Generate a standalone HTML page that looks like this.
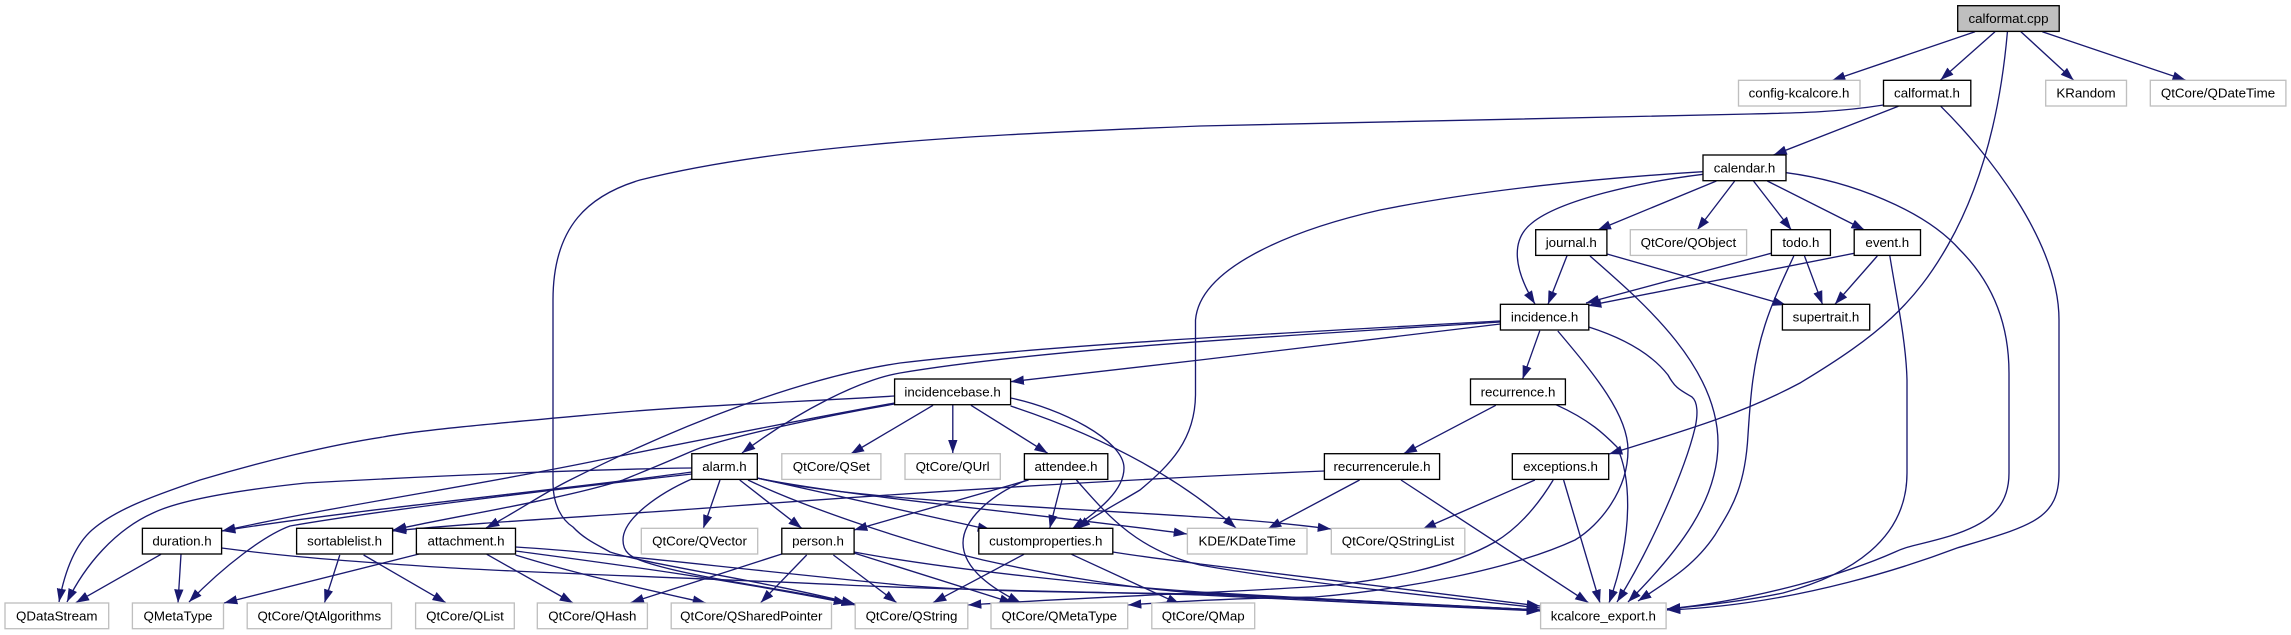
<!DOCTYPE html>
<html><head><meta charset="utf-8"><title>calformat.cpp</title>
<style>
html,body{margin:0;padding:0;background:#fff;width:2291px;height:635px;overflow:hidden}
svg{display:block}
.e path{fill:none;stroke:#191970;stroke-width:1.33;marker-end:url(#a)}
.n rect{fill:#fff;stroke:#000;stroke-width:1.33}
.g rect{fill:#fff;stroke:#bfbfbf;stroke-width:1.33}
text{font-family:"Liberation Sans",sans-serif;font-size:13.33px;text-anchor:middle;fill:#000}
</style></head><body>
<svg xmlns="http://www.w3.org/2000/svg" width="2291" height="635" viewBox="0 0 2291 635">
<defs><marker id="a" markerUnits="userSpaceOnUse" markerWidth="15" markerHeight="11" refX="13.33" refY="5" orient="auto"><polygon points="0,0.33 13.33,5 0,9.67" fill="#191970"/></marker></defs>
<rect width="2291" height="635" fill="#fff"/>
<g class="e">
<path d="M1975,31.7L1832,80.5"/>
<path d="M1995,31.7L1940.5,80"/>
<path d="M2007.4,32C2001,105 1985,180 1948,245C1915,303 1880,335 1800,383C1740,415 1680,432 1609,454"/>
<path d="M2020.9,31.7L2073.7,80.3"/>
<path d="M2042.3,31.7L2185.8,80.3"/>
<path d="M1898.4,106.3L1773.5,155"/>
<path d="M1940.8,106.3C1985,150 2059,240 2059,320L2059,473C2059,520 2030,526 1957,548C1920,562 1800,605 1667,610"/>
<path d="M1883.5,105C1840,112 1800,113 1750,114L1200,126C1050,132 950,137 868,145C780,153 700,165 640,180C590,195 553,225 553,300L553,483C553,505 562,520 573,527C585,540 600,546 610,552C650,565 760,580 855,604"/>
<path d="M1703,171.7C1600,178 1480,190 1380,210C1300,228 1200,265 1195.5,320L1195.5,395C1195,440 1170,465 1140,490C1115,505 1095,515 1077,529"/>
<path d="M1703,174.3C1640,182 1560,200 1532,223C1510,240 1514,270 1535,304"/>
<path d="M1716.4,181L1597.7,230"/>
<path d="M1734.7,181L1697.2,230"/>
<path d="M1753.5,181L1791.4,230"/>
<path d="M1767.3,181L1864.6,230"/>
<path d="M1786.2,172.7C1850,181 1925,210 1960,250C1990,280 2009,320 2009,373L2009,473C2009,510 1985,525 1950,536C1920,545 1910,545 1895,552C1850,572 1760,600 1667,609"/>
<path d="M1567,255.7L1548,304.3"/>
<path d="M1607,254L1786,305"/>
<path d="M1590,256C1640,300 1718,365 1718,443C1718,500 1680,550 1628,602"/>
<path d="M1771,253.3L1586,303"/>
<path d="M1804.5,256L1822.5,304.3"/>
<path d="M1793.8,256C1785,275 1773,300 1765,325C1752,365 1750,405 1748,435C1745,490 1730,510 1715,535C1695,565 1670,580 1638,601"/>
<path d="M1854.2,253.3L1588,305.7"/>
<path d="M1877.3,256L1834.9,304.3"/>
<path d="M1889.8,255.7C1896,295 1906,340 1907,380L1907,473C1907,540 1850,575 1783,593C1745,601 1700,606 1667,609"/>
<path d="M1500.4,321C1300,332 1050,345 900,363C800,378 680,425 570,480C540,495 520,510 486,528"/>
<path d="M1500.4,322C1300,335 1050,348 900,373C860,380 800,410 742,453"/>
<path d="M1500.4,324L1200,360L1010.6,381.7"/>
<path d="M1539.8,330.7L1522.6,379"/>
<path d="M1557.8,331C1595,375 1628,415 1628,450C1628,490 1600,525 1575,540C1510,570 1400,590 1315,597C1250,598 1180,601 1128,605"/>
<path d="M1588.8,327C1620,337 1650,352 1668,375C1675,388 1680,390 1692,397C1698,402 1698,415 1695,428C1685,470 1650,550 1617,602"/>
<path d="M1495.8,405.3L1403.6,453.7"/>
<path d="M1555.9,404.7C1590,420 1605,435 1617,447C1630,475 1635,530 1609,603"/>
<path d="M1359.6,480L1268,528.7"/>
<path d="M1401,480L1588.4,602.7"/>
<path d="M1324.4,471C1150,478 950,490 733,506C620,515 480,522 393,531"/>
<path d="M1534.9,480L1422.7,529"/>
<path d="M1553.2,480C1535,510 1515,530 1495,542C1450,568 1380,580 1335,585C1250,592 1100,596 968,605"/>
<path d="M1563.6,480L1600,603"/>
<path d="M894.6,396C800,402 700,405 600,414C500,423 420,430 383,437C330,445 260,462 200,480C150,497 115,510 92,530C75,545 65,570 59,602"/>
<path d="M894.6,403C800,420 700,440 600,460C480,485 340,505 222,531"/>
<path d="M894.6,404C830,415 720,438 690,452C660,465 640,473 623,480C560,500 450,517 393,530"/>
<path d="M933,405.3L850.7,454"/>
<path d="M952.8,405L952.8,453.3"/>
<path d="M971,405.3L1047.7,453.3"/>
<path d="M1010.6,398C1060,408 1124,440 1124,468C1124,490 1100,510 1072,529"/>
<path d="M1010.6,406C1090,432 1170,470 1236,528"/>
<path d="M691.8,468C600,469 450,475 306,483C240,490 180,500 153,513C115,530 85,565 67,602"/>
<path d="M692,472C560,490 350,510 222,531"/>
<path d="M692,474C620,482 400,507 290,526C265,535 225,565 189,602"/>
<path d="M691.7,479C660,493 623,518 623,540C623,552 630,557 645,562C700,580 800,590 855,605"/>
<path d="M720,480L703.3,528.3"/>
<path d="M739.7,480L801.7,528.3"/>
<path d="M757,478L991,530"/>
<path d="M757,478C850,497 1050,515 1187,534"/>
<path d="M757,478C850,500 1050,507 1200,517C1250,520 1300,525 1331,529"/>
<path d="M748,480C800,505 900,540 983,560C1050,575 1140,590 1200,593C1300,598 1450,605 1540,610"/>
<path d="M1028.6,480L854,530"/>
<path d="M1062,480L1049.7,528.3"/>
<path d="M1026.7,480C990,495 963,520 963,543C963,570 995,590 1021,603"/>
<path d="M1076.4,480C1105,512 1135,550 1200,565C1300,583 1450,598 1540,608"/>
<path d="M161,554.3L75.8,602.7"/>
<path d="M181,554.3L178,602.7"/>
<path d="M221.6,548C260,553 300,558 421,566C500,572 700,578 845,585C950,590 1100,592 1200,595C1300,600 1450,607 1540,611"/>
<path d="M339.8,555L324.5,602.7"/>
<path d="M363.6,555L445.8,602.7"/>
<path d="M419,554L224,603"/>
<path d="M486.8,554.3L573,603"/>
<path d="M515.5,555C580,575 640,588 706,603"/>
<path d="M515.5,551C620,565 720,578 847,603"/>
<path d="M515.5,547C600,552 700,565 900,585C1000,593 1100,592 1200,594C1300,598 1450,606 1540,610"/>
<path d="M781.8,554L630.6,602.7"/>
<path d="M806.7,555L760.7,602.7"/>
<path d="M833.4,555L896.6,602.7"/>
<path d="M854,553L1013,603"/>
<path d="M854,552C950,570 1100,585 1200,592C1300,598 1450,606 1540,610"/>
<path d="M1024,554.3L933,602.7"/>
<path d="M1071.5,554.3L1180,604.3"/>
<path d="M1112.8,552C1150,558 1180,561 1200,564L1540,606"/>
</g>
<g class="n">
<rect x="1957.7" y="5.7" width="101.5" height="25.7" style="fill:#bfbfbf"/><text x="2008.5" y="23">calformat.cpp</text>
<rect x="1883.5" y="80.3" width="87.3" height="25.7"/><text x="1927" y="97.6">calformat.h</text>
<rect x="1703" y="155" width="83" height="25.7"/><text x="1744.5" y="172.3">calendar.h</text>
<rect x="1535.7" y="229.7" width="71.2" height="25.7"/><text x="1571.3" y="247">journal.h</text>
<rect x="1771.4" y="229.7" width="59" height="25.7"/><text x="1800.9" y="247">todo.h</text>
<rect x="1854.2" y="229.7" width="66.3" height="25.7"/><text x="1887.3" y="247">event.h</text>
<rect x="1500.4" y="304.3" width="88.4" height="25.7"/><text x="1544.6" y="321.6">incidence.h</text>
<rect x="1782.4" y="304.3" width="87.3" height="25.7"/><text x="1826" y="321.6">supertrait.h</text>
<rect x="894.6" y="379" width="116" height="25.7"/><text x="952.6" y="396.3">incidencebase.h</text>
<rect x="1470.5" y="379" width="94.9" height="25.7"/><text x="1518" y="396.3">recurrence.h</text>
<rect x="691.8" y="453.7" width="65.5" height="25.7"/><text x="724.5" y="471">alarm.h</text>
<rect x="1024.4" y="453.7" width="83.4" height="25.7"/><text x="1066" y="471">attendee.h</text>
<rect x="1324.4" y="453.7" width="115.2" height="25.7"/><text x="1382" y="471">recurrencerule.h</text>
<rect x="1512.3" y="453.7" width="96.4" height="25.7"/><text x="1560.5" y="471">exceptions.h</text>
<rect x="142.4" y="528.3" width="79.2" height="25.7"/><text x="182" y="545.6">duration.h</text>
<rect x="296.6" y="528.3" width="96" height="25.7"/><text x="344.6" y="545.6">sortablelist.h</text>
<rect x="416.4" y="528.3" width="99.1" height="25.7"/><text x="466" y="545.6">attachment.h</text>
<rect x="781.8" y="528.3" width="72.3" height="25.7"/><text x="818" y="545.6">person.h</text>
<rect x="978.8" y="528.3" width="134" height="25.7"/><text x="1045.8" y="545.6">customproperties.h</text>
</g>
<g class="g">
<rect x="1738.5" y="80.3" width="121.5" height="25.7"/><text x="1799" y="97.6">config-kcalcore.h</text>
<rect x="2045.7" y="80.3" width="80.8" height="25.7"/><text x="2086" y="97.6">KRandom</text>
<rect x="2150.3" y="80.3" width="135.6" height="25.7"/><text x="2218" y="97.6">QtCore/QDateTime</text>
<rect x="1630.3" y="229.7" width="116.3" height="25.7"/><text x="1688.4" y="247">QtCore/QObject</text>
<rect x="781.8" y="453.7" width="99.1" height="25.7"/><text x="831.3" y="471">QtCore/QSet</text>
<rect x="905" y="453.7" width="95.3" height="25.7"/><text x="952.6" y="471">QtCore/QUrl</text>
<rect x="641.3" y="528.3" width="116.4" height="25.7"/><text x="699.5" y="545.6">QtCore/QVector</text>
<rect x="1187.4" y="528.3" width="119.6" height="25.7"/><text x="1247.2" y="545.6">KDE/KDateTime</text>
<rect x="1331.3" y="528.3" width="133.5" height="25.7"/><text x="1398" y="545.6">QtCore/QStringList</text>
<rect x="5" y="603" width="103.7" height="25.7"/><text x="56.8" y="620.3">QDataStream</text>
<rect x="132.4" y="603" width="91.1" height="25.7"/><text x="178" y="620.3">QMetaType</text>
<rect x="247.2" y="603" width="144.3" height="25.7"/><text x="319.3" y="620.3">QtCore/QtAlgorithms</text>
<rect x="415.6" y="603" width="98.7" height="25.7"/><text x="465" y="620.3">QtCore/QList</text>
<rect x="537.3" y="603" width="110.1" height="25.7"/><text x="592.3" y="620.3">QtCore/QHash</text>
<rect x="671.2" y="603" width="160.3" height="25.7"/><text x="751.3" y="620.3">QtCore/QSharedPointer</text>
<rect x="855.2" y="603" width="112.6" height="25.7"/><text x="911.5" y="620.3">QtCore/QString</text>
<rect x="991" y="603" width="136.7" height="25.7"/><text x="1059.3" y="620.3">QtCore/QMetaType</text>
<rect x="1151.8" y="603" width="102.9" height="25.7"/><text x="1203.2" y="620.3">QtCore/QMap</text>
<rect x="1540.6" y="603" width="125.5" height="25.7"/><text x="1603.3" y="620.3">kcalcore_export.h</text>
</g>
</svg>
</body></html>
